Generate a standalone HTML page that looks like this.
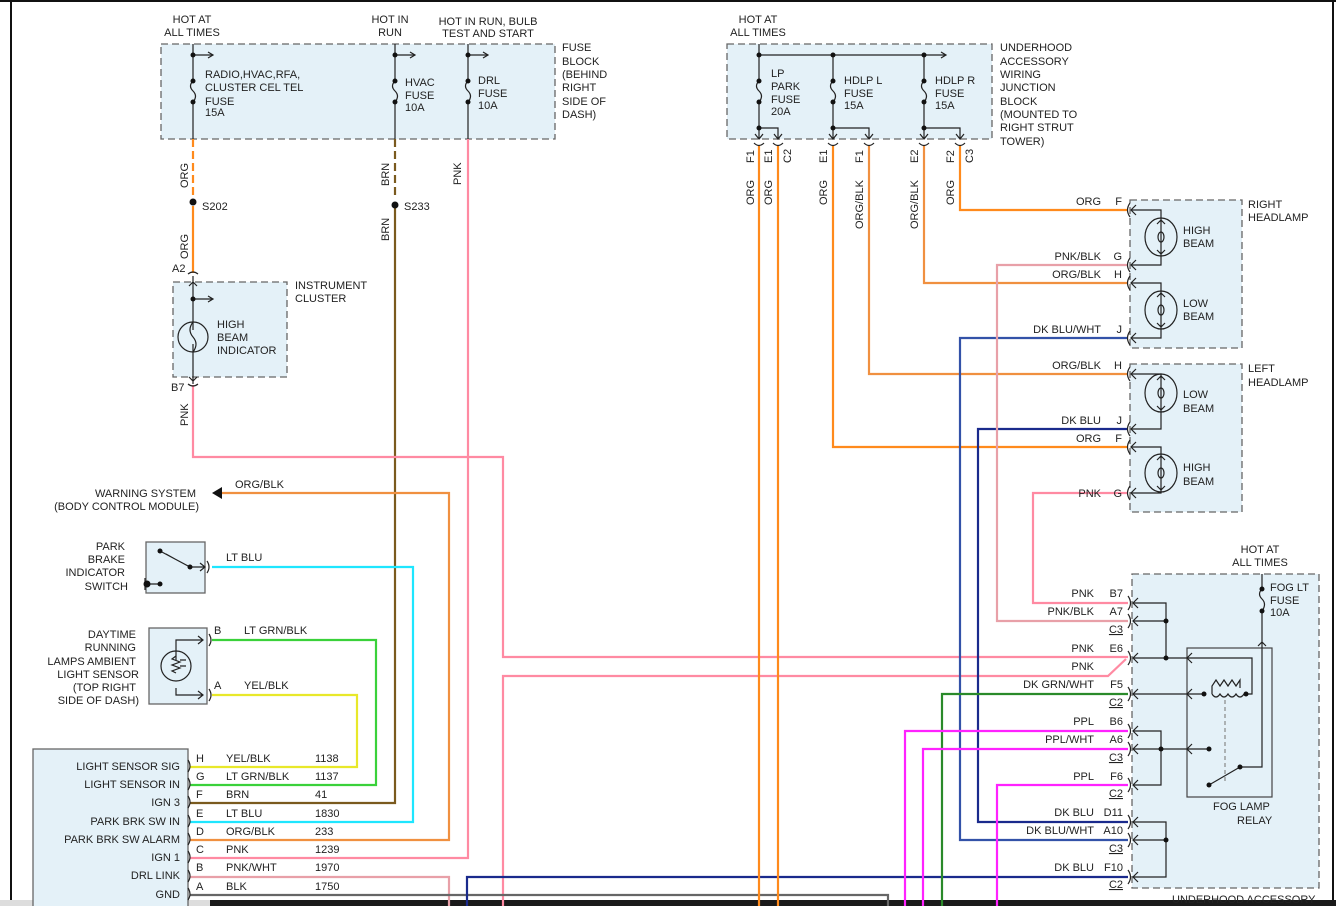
<!DOCTYPE html>
<html><head><meta charset="utf-8"><style>
html,body{margin:0;padding:0;background:#fff;width:1336px;height:906px;overflow:hidden}
svg{display:block}
text{font-family:"Liberation Sans",sans-serif;font-size:11px;fill:#222}
.b{fill:#e4f1f8;stroke:#666;stroke-width:1.3;stroke-dasharray:7,4}
.s{fill:#e4f1f8;stroke:#666;stroke-width:1.3}
.k{stroke:#222;stroke-width:1.2;fill:none}
.w{fill:none;stroke-width:2.2}
.o{stroke:#ff8a1c}.p{stroke:#ff8aa2}.n{stroke:#7a5a1e}.c{stroke:#1ee6ff}.g{stroke:#3ad13a}.y{stroke:#e8e82a}
.m{stroke:#ff22ff}.d{stroke:#1a2a8c}.dw{stroke:#3352a8}.dg{stroke:#2a8a2a}.gr{stroke:#666}.pb{stroke:#e8a0a8}.ob{stroke:#f09040}
.r{text-anchor:end}
</style></head><body>
<svg width="1336" height="906" viewBox="0 0 1336 906" xmlns="http://www.w3.org/2000/svg">
<rect x="0" y="0" width="1336" height="2" fill="#111"/>
<rect x="10" y="0" width="2" height="900" fill="#111"/>
<rect x="1332" y="0" width="2" height="900" fill="#111"/>
<rect x="0" y="900" width="1336" height="6" fill="#ddd"/>
<rect x="210" y="900" width="1126" height="6" fill="#1a1a1a"/>

<!-- boxes -->
<rect class="b" x="161" y="44" width="394" height="95"/>
<rect class="b" x="173" y="282" width="114" height="95"/>
<rect class="b" x="727" y="44" width="265" height="95"/>
<rect class="b" x="1130" y="200" width="112" height="148"/>
<rect class="b" x="1130" y="364" width="112" height="148"/>
<rect class="b" x="1132" y="574" width="187" height="314"/>
<rect class="s" x="146" y="542" width="59" height="51"/>
<rect class="s" x="149" y="628" width="58" height="76"/>
<rect class="s" x="33" y="749" width="155" height="160"/>
<rect x="1187" y="648" width="85" height="149" fill="none" stroke="#444" stroke-width="1.2"/>

<!-- wires -->
<path class="w o" d="M193 139V196" stroke-dasharray="8,4"/>
<path class="w o" d="M193 206V273"/>
<path class="w n" d="M395 139V196" stroke-dasharray="8,4"/>
<path class="w n" d="M395 206V803H190"/>
<path class="w p" d="M468 139V858H190"/>
<path class="w p" d="M193 385V457H503V657H1128"/>
<path class="w p" d="M503 906V676H1108L1126 659"/>
<path class="w ob" d="M222 493H449V840H190"/>
<path class="w c" d="M212 567H413V822H190"/>
<path class="w g" d="M212 640H376V785H190"/>
<path class="w y" d="M212 695H357V767H190"/>
<path class="w pb" d="M190 877H449V906"/>
<path class="w gr" d="M190 895H888V906"/>
<path class="w d" d="M467 906V877H1128"/>
<path class="w o" d="M759 146V906"/>
<path class="w o" d="M778 146V906"/>
<path class="w o" d="M833 146V447H1128"/>
<path class="w ob" d="M869 146V374H1128"/>
<path class="w ob" d="M924 146V283H1128"/>
<path class="w o" d="M960 146V210H1128"/>
<path class="w dw" d="M1128 338H960V840H1128"/>
<path class="w d" d="M1128 429H978V822H1128"/>
<path class="w pb" d="M1128 265H997V621H1128"/>
<path class="w p" d="M1128 493H1033V603H1128"/>
<path class="w dg" d="M942 906V694H1128"/>
<path class="w m" d="M905 906V731H1128"/>
<path class="w m" d="M923 906V749H1128"/>
<path class="w m" d="M997 906V785H1128"/>

<!-- left fuse block internals -->
<g class="k">
<path d="M193 44V81q-5 5 0 10q5 5 0 11V139M193 55H213"/>
<path d="M395 44V81q-5 5 0 10q5 5 0 11V139M395 55H415"/>
<path d="M468 44V81q-5 5 0 10q5 5 0 11V139M468 55H488"/>
<path d="M208 52l5 3-5 3M410 52l5 3-5 3M483 52l5 3-5 3"/>
<path d="M193 276V330M193 299H213M208 296l5 3-5 3M193 344V384M189 286l4-4 4 4M189 377l4 4 4-4M188 274q5 -4 10 0M188 384q5 4 10 0"/>
<circle cx="193" cy="337" r="15"/><path d="M193 322q-6 8 0 15q6 7 0 15"/>
</g>
<g fill="#111"><circle cx="193" cy="55" r="2.5"/><circle cx="193" cy="81" r="2.5"/><circle cx="193" cy="102" r="2.5"/>
<circle cx="395" cy="55" r="2.5"/><circle cx="395" cy="81" r="2.5"/><circle cx="395" cy="102" r="2.5"/>
<circle cx="468" cy="55" r="2.5"/><circle cx="468" cy="81" r="2.5"/><circle cx="468" cy="102" r="2.5"/>
<circle cx="193" cy="202" r="3.5"/><circle cx="395" cy="205" r="3.5"/><circle cx="193" cy="299" r="2.5"/></g>

<!-- underhood block -->
<g class="k">
<path d="M759 44V81q-5 5 0 10q5 5 0 11V139M759 55H946M941 52l5 3-5 3"/>
<path d="M833 55V81q-5 5 0 10q5 5 0 11V139"/>
<path d="M924 55V81q-5 5 0 10q5 5 0 11V139"/>
<path d="M759 128H778V139M833 128H869V139M924 128H960V139"/>
<path d="M755 134l4 5 4-5M774 134l4 5 4-5M829 134l4 5 4-5M865 134l4 5 4-5M920 134l4 5 4-5M956 134l4 5 4-5"/>
<path d="M754 143q5 5 10 0M773 143q5 5 10 0M828 143q5 5 10 0M864 143q5 5 10 0M919 143q5 5 10 0M955 143q5 5 10 0"/>
</g>
<g fill="#111"><circle cx="759" cy="55" r="2.5"/><circle cx="833" cy="55" r="2.5"/><circle cx="924" cy="55" r="2.5"/>
<circle cx="759" cy="81" r="2.5"/><circle cx="759" cy="102" r="2.5"/><circle cx="833" cy="81" r="2.5"/><circle cx="833" cy="102" r="2.5"/>
<circle cx="924" cy="81" r="2.5"/><circle cx="924" cy="102" r="2.5"/>
<circle cx="759" cy="128" r="2.5"/><circle cx="833" cy="128" r="2.5"/><circle cx="924" cy="128" r="2.5"/></g>

<!-- headlamps -->
<g class="k">
<path d="M1131 210H1161V222M1161 252V265H1131"/><ellipse cx="1161" cy="237" rx="16" ry="19"/><path d="M1161 220v34M1157 224l4-4 4 4M1157 250l4 4 4-4"/><ellipse cx="1161" cy="237" rx="3" ry="5"/>
<path d="M1131 283H1161V295M1161 325V338H1131"/><ellipse cx="1161" cy="310" rx="16" ry="19"/><path d="M1161 293v34M1157 297l4-4 4 4M1157 323l4 4 4-4"/><ellipse cx="1161" cy="310" rx="3" ry="5"/>
<path d="M1131 374H1161V378M1161 408V429H1131"/><ellipse cx="1161" cy="393" rx="16" ry="19"/><path d="M1161 376v34M1157 380l4-4 4 4M1157 406l4 4 4-4"/><ellipse cx="1161" cy="393" rx="3" ry="5"/>
<path d="M1131 447H1161V458M1161 488V493H1131"/><ellipse cx="1161" cy="473" rx="16" ry="19"/><path d="M1161 456v34M1157 460l4-4 4 4M1157 486l4 4 4-4"/><ellipse cx="1161" cy="473" rx="3" ry="5"/>
<path d="M1136 205l-5 5 5 5M1136 260l-5 5 5 5M1136 278l-5 5 5 5M1136 333l-5 5 5 5M1136 369l-5 5 5 5M1136 424l-5 5 5 5M1136 442l-5 5 5 5M1136 488l-5 5 5 5"/>
<path d="M1130 203q-5 7 0 14M1130 258q-5 7 0 14M1130 276q-5 7 0 14M1130 331q-5 7 0 14M1130 367q-5 7 0 14M1130 422q-5 7 0 14M1130 440q-5 7 0 14M1130 486q-5 7 0 14"/>
</g>

<!-- fog block -->
<g class="k">
<path d="M1262 574V589q-5 5 0 10q5 5 0 12V767H1240M1258 646l4-4 4 4"/>
<path d="M1133 603H1166V658M1133 621H1166M1133 658H1252V694H1246M1133 694H1204M1212 694v-8l4-6 4 6 4-6 4 6 4-6 4 6 4-6v8M1212 694q4 6 8 0q4 6 8 0q4 6 8 0q4 6 8 0"/>
<path d="M1133 731H1161V785H1133M1133 749H1209M1209 785L1240 767"/>
<path d="M1225 700V782" stroke-dasharray="4,3" stroke="#888"/>
<path d="M1133 822H1166V877H1133M1133 840H1166"/>
<path d="M1138 598l-5 5 5 5M1138 616l-5 5 5 5M1138 653l-5 5 5 5M1138 689l-5 5 5 5M1138 726l-5 5 5 5M1138 744l-5 5 5 5M1138 780l-5 5 5 5M1138 817l-5 5 5 5M1138 835l-5 5 5 5M1138 872l-5 5 5 5"/>
<path d="M1192 653l-5 5 5 5M1192 689l-5 5 5 5M1192 744l-5 5 5 5"/>
<path d="M1128 596q5 7 0 14M1128 614q5 7 0 14M1128 651q5 7 0 14M1128 687q5 7 0 14M1128 724q5 7 0 14M1128 742q5 7 0 14M1128 778q5 7 0 14M1128 815q5 7 0 14M1128 833q5 7 0 14M1128 870q5 7 0 14"/>
</g>
<g fill="#111"><circle cx="1262" cy="589" r="2.5"/><circle cx="1262" cy="611" r="2.5"/><circle cx="1166" cy="621" r="2.5"/><circle cx="1166" cy="658" r="2.5"/>
<circle cx="1204" cy="694" r="2.5"/><circle cx="1246" cy="694" r="2.5"/><circle cx="1161" cy="749" r="2.5"/><circle cx="1209" cy="749" r="2.5"/>
<circle cx="1209" cy="785" r="2.5"/><circle cx="1240" cy="767" r="2.5"/><circle cx="1166" cy="840" r="2.5"/></g>

<!-- switches -->
<g class="k">
<path d="M160 551L190 567H205M200 563l5 4-5 4M175 559l-9-5"/>
<path d="M147 584H160M145 578v12"/>
<path d="M207 561q4 6 0 12M209 634q4 6 0 12M209 689q4 6 0 12"/>
<path d="M203 640H176V660M176 688V695H203M198 636l5 4-5 4M198 691l5 4-5 4"/>
<circle cx="176" cy="666" r="15"/><path d="M176 656l-4 3 8 3-8 3 8 3-8 3 4 2"/>
<path d="M186 660h-6M186 666h-6"/>
<path d="M188 760q4 6 0 12M188 778q4 6 0 12M188 796q4 6 0 12M188 815q4 6 0 12M188 833q4 6 0 12M188 851q4 6 0 12M188 870q4 6 0 12M188 888q4 6 0 12"/>
</g>
<g fill="#111"><circle cx="160" cy="551" r="2.5"/><circle cx="190" cy="567" r="2.5"/><circle cx="147" cy="584" r="3.5"/><circle cx="160" cy="584" r="2.5"/></g>
<path d="M222 487L212 493 222 499Z" fill="#111"/>

<!-- texts -->
<text x="192" y="23" text-anchor="middle">HOT AT</text><text x="192" y="36" text-anchor="middle">ALL TIMES</text>
<text x="390" y="23" text-anchor="middle">HOT IN</text><text x="390" y="36" text-anchor="middle">RUN</text>
<text x="488" y="25" text-anchor="middle">HOT IN RUN, BULB</text><text x="488" y="37" text-anchor="middle">TEST AND START</text>
<text x="205" y="78">RADIO,HVAC,RFA,</text><text x="205" y="91">CLUSTER CEL TEL</text><text x="205" y="105">FUSE</text><text x="205" y="116">15A</text>
<text x="405" y="86">HVAC</text><text x="405" y="99">FUSE</text><text x="405" y="111">10A</text>
<text x="478" y="84">DRL</text><text x="478" y="97">FUSE</text><text x="478" y="109">10A</text>
<text x="562" y="51">FUSE</text><text x="562" y="65">BLOCK</text><text x="562" y="78">(BEHIND</text><text x="562" y="91">RIGHT</text><text x="562" y="105">SIDE OF</text><text x="562" y="118">DASH)</text>
<text transform="translate(188,188) rotate(-90)">ORG</text><text x="202" y="210">S202</text>
<text transform="translate(188,259) rotate(-90)">ORG</text><text x="172" y="272">A2</text>
<text x="295" y="289">INSTRUMENT</text><text x="295" y="302">CLUSTER</text>
<text x="217" y="328">HIGH</text><text x="217" y="341">BEAM</text><text x="217" y="354">INDICATOR</text>
<text x="171" y="391">B7</text><text transform="translate(188,426) rotate(-90)">PNK</text>
<text transform="translate(389,186) rotate(-90)">BRN</text><text x="404" y="210">S233</text>
<text transform="translate(389,241) rotate(-90)">BRN</text>
<text transform="translate(461,185) rotate(-90)">PNK</text>

<text x="758" y="23" text-anchor="middle">HOT AT</text><text x="758" y="36" text-anchor="middle">ALL TIMES</text>
<text x="771" y="77">LP</text><text x="771" y="90">PARK</text><text x="771" y="103">FUSE</text><text x="771" y="115">20A</text>
<text x="844" y="84">HDLP L</text><text x="844" y="97">FUSE</text><text x="844" y="109">15A</text>
<text x="935" y="84">HDLP R</text><text x="935" y="97">FUSE</text><text x="935" y="109">15A</text>
<text x="1000" y="51">UNDERHOOD</text><text x="1000" y="65">ACCESSORY</text><text x="1000" y="78">WIRING</text><text x="1000" y="91">JUNCTION</text><text x="1000" y="105">BLOCK</text><text x="1000" y="131" dy="-13">(MOUNTED TO</text><text x="1000" y="131">RIGHT STRUT</text><text x="1000" y="145">TOWER)</text>
<g>
<text transform="translate(754,163) rotate(-90)">F1</text><text transform="translate(772,163) rotate(-90)">E1</text><text transform="translate(791,163) rotate(-90)">C2</text>
<text transform="translate(827,163) rotate(-90)">E1</text><text transform="translate(863,163) rotate(-90)">F1</text>
<text transform="translate(918,163) rotate(-90)">E2</text><text transform="translate(954,163) rotate(-90)">F2</text><text transform="translate(973,163) rotate(-90)">C3</text>
<text transform="translate(754,205) rotate(-90)">ORG</text><text transform="translate(772,205) rotate(-90)">ORG</text><text transform="translate(827,205) rotate(-90)">ORG</text>
<text transform="translate(863,229) rotate(-90)">ORG/BLK</text><text transform="translate(918,229) rotate(-90)">ORG/BLK</text><text transform="translate(954,205) rotate(-90)">ORG</text>
</g>
<text class="r" x="1101" y="205">ORG</text><text class="r" x="1122" y="205">F</text>
<text class="r" x="1101" y="260">PNK/BLK</text><text class="r" x="1122" y="260">G</text>
<text class="r" x="1101" y="278">ORG/BLK</text><text class="r" x="1122" y="278">H</text>
<text class="r" x="1101" y="333">DK BLU/WHT</text><text class="r" x="1122" y="333">J</text>
<text class="r" x="1101" y="369">ORG/BLK</text><text class="r" x="1122" y="369">H</text>
<text class="r" x="1101" y="424">DK BLU</text><text class="r" x="1122" y="424">J</text>
<text class="r" x="1101" y="442">ORG</text><text class="r" x="1122" y="442">F</text>
<text class="r" x="1101" y="497">PNK</text><text class="r" x="1122" y="497">G</text>
<text x="1183" y="234">HIGH</text><text x="1183" y="247">BEAM</text>
<text x="1183" y="307">LOW</text><text x="1183" y="320">BEAM</text>
<text x="1183" y="398">LOW</text><text x="1183" y="412">BEAM</text>
<text x="1183" y="471">HIGH</text><text x="1183" y="485">BEAM</text>
<text x="1248" y="208">RIGHT</text><text x="1248" y="221">HEADLAMP</text>
<text x="1248" y="372">LEFT</text><text x="1248" y="386">HEADLAMP</text>

<text x="1260" y="553" text-anchor="middle">HOT AT</text><text x="1260" y="566" text-anchor="middle">ALL TIMES</text>
<text x="1270" y="591">FOG LT</text><text x="1270" y="604">FUSE</text><text x="1270" y="616">10A</text>
<text x="1213" y="810">FOG LAMP</text><text x="1237" y="824">RELAY</text>
<text x="1172" y="903">UNDERHOOD ACCESSORY</text>
<g class="r">
<text class="r" x="1094" y="597">PNK</text><text class="r" x="1123" y="597">B7</text>
<text class="r" x="1094" y="615">PNK/BLK</text><text class="r" x="1123" y="615">A7</text><text class="r" x="1123" y="633" text-decoration="underline">C3</text>
<text class="r" x="1094" y="652">PNK</text><text class="r" x="1123" y="652">E6</text>
<text class="r" x="1094" y="670">PNK</text>
<text class="r" x="1094" y="688">DK GRN/WHT</text><text class="r" x="1123" y="688">F5</text><text class="r" x="1123" y="706" text-decoration="underline">C2</text>
<text class="r" x="1094" y="725">PPL</text><text class="r" x="1123" y="725">B6</text>
<text class="r" x="1094" y="743">PPL/WHT</text><text class="r" x="1123" y="743">A6</text><text class="r" x="1123" y="761" text-decoration="underline">C3</text>
<text class="r" x="1094" y="780">PPL</text><text class="r" x="1123" y="780">F6</text><text class="r" x="1123" y="797" text-decoration="underline">C2</text>
<text class="r" x="1094" y="816">DK BLU</text><text class="r" x="1123" y="816">D11</text>
<text class="r" x="1094" y="834">DK BLU/WHT</text><text class="r" x="1123" y="834">A10</text><text class="r" x="1123" y="852" text-decoration="underline">C3</text>
<text class="r" x="1094" y="871">DK BLU</text><text class="r" x="1123" y="871">F10</text><text class="r" x="1123" y="888" text-decoration="underline">C2</text>
</g>

<text class="r" x="196" y="497">WARNING SYSTEM</text><text class="r" x="199" y="510">(BODY CONTROL MODULE)</text>
<text x="235" y="488">ORG/BLK</text>
<text class="r" x="125" y="550">PARK</text><text class="r" x="125" y="563">BRAKE</text><text class="r" x="125" y="576">INDICATOR</text><text class="r" x="128" y="590">SWITCH</text>
<text x="226" y="561">LT BLU</text>
<text class="r" x="136" y="638">DAYTIME</text><text class="r" x="136" y="651">RUNNING</text><text class="r" x="136" y="665">LAMPS AMBIENT</text><text class="r" x="139" y="678">LIGHT SENSOR</text><text class="r" x="136" y="691">(TOP RIGHT</text><text class="r" x="139" y="704">SIDE OF DASH)</text>
<text x="214" y="634">B</text><text x="244" y="634">LT GRN/BLK</text>
<text x="214" y="689">A</text><text x="244" y="689">YEL/BLK</text>
<text class="r" x="180" y="770">LIGHT SENSOR SIG</text><text class="r" x="180" y="788">LIGHT SENSOR IN</text><text class="r" x="180" y="806">IGN 3</text>
<text class="r" x="180" y="825">PARK BRK SW IN</text><text class="r" x="180" y="843">PARK BRK SW ALARM</text><text class="r" x="180" y="861">IGN 1</text>
<text class="r" x="180" y="879">DRL LINK</text><text class="r" x="180" y="898">GND</text>
<text x="196" y="762">H</text><text x="226" y="762">YEL/BLK</text><text x="315" y="762">1138</text>
<text x="196" y="780">G</text><text x="226" y="780">LT GRN/BLK</text><text x="315" y="780">1137</text>
<text x="196" y="798">F</text><text x="226" y="798">BRN</text><text x="315" y="798">41</text>
<text x="196" y="817">E</text><text x="226" y="817">LT BLU</text><text x="315" y="817">1830</text>
<text x="196" y="835">D</text><text x="226" y="835">ORG/BLK</text><text x="315" y="835">233</text>
<text x="196" y="853">C</text><text x="226" y="853">PNK</text><text x="315" y="853">1239</text>
<text x="196" y="871">B</text><text x="226" y="871">PNK/WHT</text><text x="315" y="871">1970</text>
<text x="196" y="890">A</text><text x="226" y="890">BLK</text><text x="315" y="890">1750</text>
</svg>
</body></html>
